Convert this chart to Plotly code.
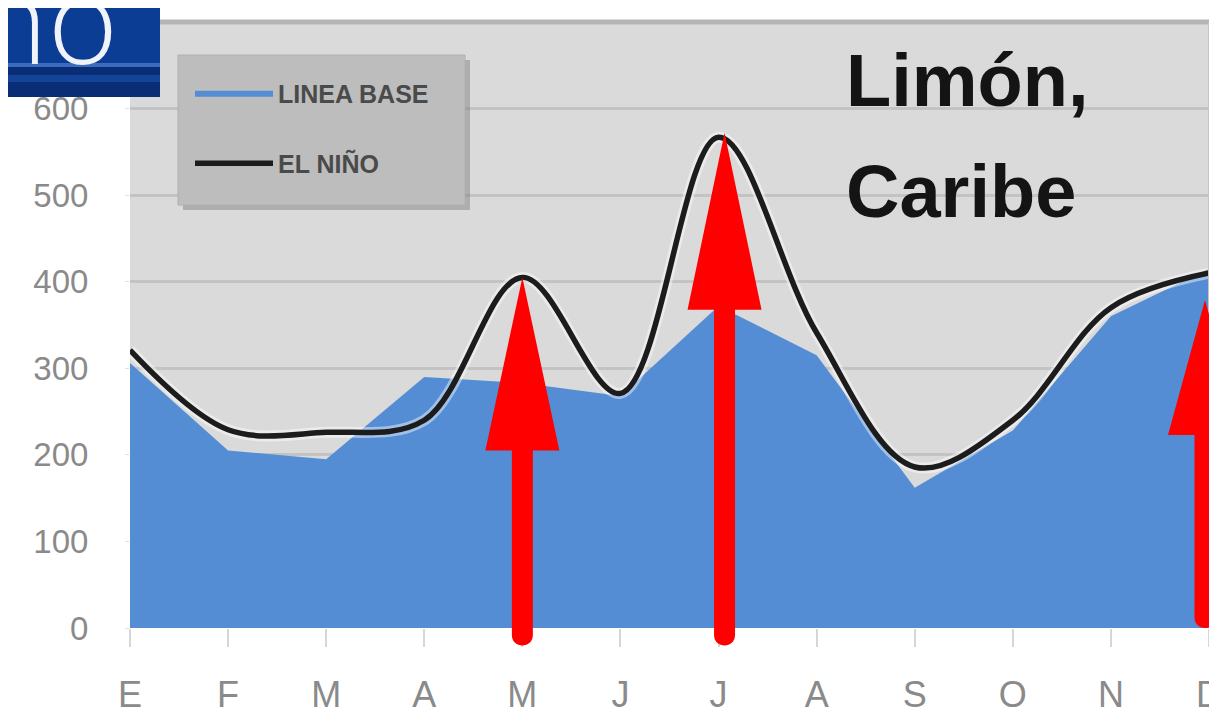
import plotly.graph_objects as go

# ---------------- data ----------------
months = ["E", "F", "M", "A", "M", "J", "J", "A", "S", "O", "N", "D"]
linea_base = [306, 205, 195, 290, 283, 268, 372, 315, 162, 228, 360, 415]
el_nino = [321, 229, 226, 240, 405, 271, 567, 341, 186, 240, 370, 410]
y_ticks = [0, 100, 200, 300, 400, 500, 600]

# red arrows: month index, tip value, bottom value
arrow_idx = [4, 6, 11]
arrow_tip = [405, 572, 379]
arrow_bottom = [-8, -8, 12]

# ---------------- layout constants ----------------
BODY = 8                      # default page margin around the figure
W, H = 1217 - BODY, 718 - BODY
ML, MT = 122, 14
PW, PH = 1079, 606
MR = W - ML - PW
MB = H - MT - PH
PLOT_LEFT = BODY + ML         # page pixel of the plot's left edge
PLOT_BOTTOM = BODY + MT + PH  # page pixel of the plot's bottom edge
Y_MAX = 700
X_MAX = len(months) - 1

# arrow styling (pixels)
arrow_head_px = [173, 177, 135]
arrow_dx_px = [0, 6, -4]
SHAFT_HALF = 10.5
HEAD_HALF = 37


def px_x(p):
    return p / PW


def px_y(p):
    return p / PH


def page_x(p):
    return (p - PLOT_LEFT) / PW


def page_y(p):
    return (PLOT_BOTTOM - p) / PH


x_idx = list(range(len(months)))

fig = go.Figure()

fig.add_trace(go.Scatter(
    x=x_idx, y=linea_base, name="LINEA BASE", mode="lines",
    line=dict(width=0, color="#548dd4"), fill="tozeroy",
    fillcolor="#548dd4", legendgroup="a",
))
fig.add_trace(go.Scatter(
    x=x_idx, y=el_nino, mode="lines", showlegend=False,
    line=dict(width=11, color="rgba(255,255,255,0.45)", shape="spline", smoothing=1),
    hoverinfo="skip",
))
fig.add_trace(go.Scatter(
    x=x_idx, y=el_nino, name="EL NIÑO", mode="lines",
    line=dict(width=5.5, color="#1c1c1c", shape="spline", smoothing=1),
    legendgroup="b",
))

shapes = []
# plot top border and right border
shapes.append(dict(type="line", xref="paper", yref="paper", x0=0, x1=1, y0=1, y1=1,
                   line=dict(color="#b5b5b5", width=5), layer="above"))
shapes.append(dict(type="line", xref="paper", yref="paper", x0=1, x1=1, y0=0, y1=1,
                   line=dict(color="#c4c4c4", width=2), layer="above"))

# legend box with shadow
lx0, lx1 = page_x(178), page_x(465)
ly0, ly1 = page_y(205), page_y(55)
shapes.append(dict(type="rect", xref="paper", yref="paper",
                   x0=lx0 + px_x(5), x1=lx1 + px_x(5), y0=ly0 - px_y(5), y1=ly1 - px_y(5),
                   fillcolor="rgba(120,120,120,0.45)", line=dict(width=0), layer="above"))
shapes.append(dict(type="rect", xref="paper", yref="paper",
                   x0=lx0, x1=lx1, y0=ly0, y1=ly1,
                   fillcolor="#bdbdbd", line=dict(color="#b0b0b0", width=1), layer="above"))

# red arrows
for i, t, b, hp, dx in zip(arrow_idx, arrow_tip, arrow_bottom, arrow_head_px, arrow_dx_px):
    xc = i / X_MAX + px_x(dx)
    ty = t / Y_MAX
    by = ty - px_y(hp)
    bot = b / Y_MAX
    sw, hw = px_x(SHAFT_HALF), px_x(HEAD_HALF)
    r = px_y(SHAFT_HALF) * 1.33
    path = (f"M{xc},{ty} L{xc + hw},{by} L{xc + sw},{by} L{xc + sw},{bot} "
            f"C{xc + sw},{bot - r} {xc - sw},{bot - r} {xc - sw},{bot} "
            f"L{xc - sw},{by} L{xc - hw},{by} Z")
    shapes.append(dict(type="path", xref="paper", yref="paper", path=path,
                       fillcolor="#ff0000", line=dict(width=0), layer="above"))

# dark blue title box (top-left)
bx0, bx1 = page_x(0), page_x(160)
shapes.append(dict(type="rect", xref="paper", yref="paper",
                   x0=bx0, x1=bx1, y0=page_y(97), y1=page_y(-10),
                   fillcolor="#0b3d95", line=dict(width=0), layer="above"))
shapes.append(dict(type="rect", xref="paper", yref="paper",
                   x0=bx0, x1=bx1, y0=page_y(97), y1=page_y(67),
                   fillcolor="#0a2e76", line=dict(width=0), layer="above"))
shapes.append(dict(type="rect", xref="paper", yref="paper",
                   x0=bx0, x1=bx1, y0=page_y(82), y1=page_y(75),
                   fillcolor="#13449a", line=dict(width=0), layer="above"))
shapes.append(dict(type="rect", xref="paper", yref="paper",
                   x0=bx0, x1=bx1, y0=page_y(67), y1=page_y(63),
                   fillcolor="#3a6cc0", line=dict(width=0), layer="above"))

annotations = [
    dict(text="no", xref="paper", yref="paper", x=page_x(120), y=page_y(18),
         xanchor="right", yanchor="middle", showarrow=False,
         font=dict(family="Open Sans", size=120, color="#f0f3fa", weight=300)),
    dict(text="Limón,", xref="paper", yref="paper", x=page_x(844), y=page_y(80),
         xanchor="left", yanchor="middle", showarrow=False,
         font=dict(family="Liberation Sans", size=74, color="#141414", weight="bold")),
    dict(text="Caribe", xref="paper", yref="paper", x=page_x(844), y=page_y(191),
         xanchor="left", yanchor="middle", showarrow=False,
         font=dict(family="Liberation Sans", size=74, color="#141414", weight="bold")),
]

fig.update_layout(
    width=W, height=H,
    margin=dict(l=ML, r=MR, t=MT, b=MB, autoexpand=False),
    paper_bgcolor="white",
    plot_bgcolor="#dadada",
    shapes=shapes,
    annotations=annotations,
    showlegend=True,
    legend=dict(
        x=page_x(190), y=page_y(70), xanchor="left", yanchor="top",
        bgcolor="rgba(0,0,0,0)", borderwidth=0,
        font=dict(family="Liberation Sans", size=25, color="#4a4a4a", weight="bold"),
        itemwidth=78, traceorder="grouped", tracegroupgap=35,
    ),
    xaxis=dict(
        range=[0, X_MAX], tickvals=x_idx, ticktext=months,
        showgrid=False, zeroline=False, showline=False,
        ticks="outside", ticklen=18, tickwidth=2, tickcolor="#d6d6d6",
        tickfont=dict(family="Liberation Sans", size=36, color="#8a8a8a"),
        ticklabelstandoff=17, ticklabeloverflow="allow", automargin=False,
    ),
    yaxis=dict(
        range=[0, Y_MAX], tickvals=y_ticks,
        showgrid=True, gridcolor="#c3c3c3", gridwidth=3,
        zeroline=False, showline=False,
        ticks="outside", ticklen=4, tickcolor="#e0e0e0",
        tickfont=dict(family="Liberation Sans", size=33, color="#8a8a8a"),
        ticklabelstandoff=30, automargin=False,
    ),
)

fig.write_html("out.html")
